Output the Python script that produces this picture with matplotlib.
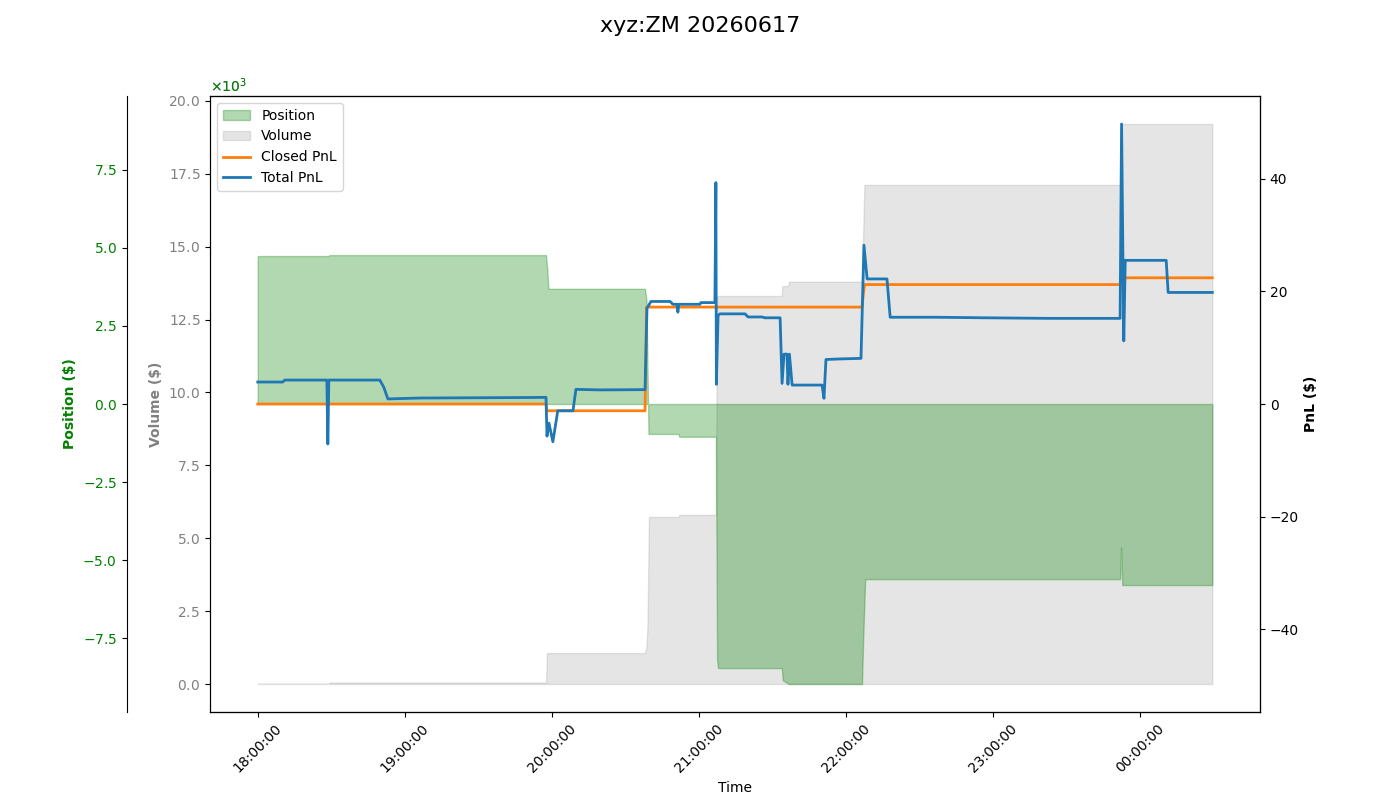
import matplotlib
matplotlib.use('Agg')
import matplotlib.pyplot as plt
import matplotlib.dates as mdates
import numpy as np
import pandas as pd

base = pd.Timestamp('2026-06-16 18:00:00')

# minutes after 18:00, values in $ (position/volume read in thousands)
pos_min = [0, 29.0, 29.2, 117.6, 118.0, 118.6, 158.0, 158.6, 159.4, 171.6, 172.0,
           186.9, 187.4, 187.8, 213.8, 214.2, 216.7, 246.5, 247.0, 247.8, 351.8,
           352.2, 352.7, 389.4]
pos_k = [4.74, 4.74, 4.77, 4.77, 4.42, 3.69, 3.69, 3.3, -0.96, -0.96, -1.05,
         -1.05, -8.2, -8.46, -8.46, -8.85, -8.97, -8.97, -7.5, -5.61, -5.61,
         -4.6, -5.8, -5.8]

vol_min = [0, 29.0, 29.2, 117.6, 118.0, 158.0, 158.6, 159.0, 159.6, 171.6, 172.0,
           186.9, 187.4, 213.8, 214.0, 216.3, 216.7, 246.5, 247.5, 351.8, 352.2,
           389.4]
vol_k = [0.01, 0.01, 0.05, 0.05, 1.06, 1.06, 1.3, 2.0, 5.73, 5.73, 5.8,
         5.8, 13.31, 13.31, 13.65, 13.65, 13.8, 13.8, 17.12, 17.12, 19.21,
         19.21]

closed_min = [0, 117.6, 118.0, 158.0, 158.6, 246.5, 247.5, 351.8, 352.2, 389.4]
closed_pnl = [0, 0, -1.2, -1.2, 17.2, 17.2, 21.2, 21.2, 22.4, 22.4]

total_min = [0, 10.2, 11.0, 28.2, 28.6, 29.0, 49.8, 51.4, 53.1, 66.1, 110.2,
             117.6, 118.0, 118.8, 120.4, 122.4, 128.6, 129.8, 139.6, 158.0, 158.8,
             160.4, 168.2, 169.4, 171.0, 171.4, 171.8, 180.4, 180.8, 186.5, 186.9,
             187.1, 187.8, 188.6, 198.8, 200.0, 205.7, 206.9, 213.1, 213.9, 214.7,
             215.9, 216.3, 216.9, 218.0, 230.2, 231.0, 231.8, 237.6, 246.1, 247.3,
             248.6, 256.7, 258.0, 276.3, 296.7, 323.3, 351.0, 351.8, 352.4, 353.3,
             353.9, 370.6, 371.4, 389.4]
total_pnl = [3.9, 3.9, 4.25, 4.25, -7.1, 4.25, 4.25, 3.0, 0.9, 1.06, 1.15,
             1.18, -5.7, -3.4, -6.7, -1.2, -1.2, 2.6, 2.5, 2.55, 17.0,
             18.2, 18.2, 17.7, 17.7, 16.3, 17.7, 17.7, 18.0, 18.0, 39.3,
             3.5, 15.75, 16.0, 16.0, 15.45, 15.45, 15.3, 15.3, 3.66, 8.85,
             8.85, 3.5, 8.85, 3.36, 3.36, 1.0, 7.9, 8.0, 8.1, 28.2,
             22.2, 22.2, 15.4, 15.4, 15.3, 15.2, 15.2, 15.2, 49.7, 11.2,
             25.5, 25.5, 19.8, 19.8]


def to_time(mins):
    return base + pd.to_timedelta(mins, unit='m')


pos_t = to_time(pos_min)
vol_t = to_time(vol_min)
closed_t = to_time(closed_min)
total_t = to_time(total_min)
position = np.array(pos_k) * 1000
volume = np.array(vol_k) * 1000

fig, ax = plt.subplots(figsize=(14, 8))
fig.subplots_adjust(left=0.15)
fig.suptitle('xyz:ZM 20260617', fontsize=16)

# volume on main axis
ax.fill_between(vol_t, 0, volume, color='grey', alpha=0.2, label='Volume')
ax.set_ylabel('Volume ($)', color='grey', fontweight='bold')
ax.tick_params(axis='y', labelcolor='grey')
ax.ticklabel_format(axis='y', style='sci', scilimits=(3, 3), useMathText=True)
ax.yaxis.get_offset_text().set_color('grey')
ax.set_xlabel('Time')

# position on an extra left axis
ax2 = ax.twinx()
ax2.fill_between(pos_t, 0, position, color='green', alpha=0.3, label='Position')
ax2.yaxis.set_label_position('left')
ax2.yaxis.set_ticks_position('left')
ax2.spines['left'].set_position(('outward', 60))
ax2.set_ylabel('Position ($)', color='green', fontweight='bold')
ax2.tick_params(axis='y', labelcolor='green')
ax2.ticklabel_format(axis='y', style='sci', scilimits=(3, 3), useMathText=True)
ax2.yaxis.get_offset_text().set_color('green')
plim = np.abs(position).max() * 1.1
ax2.set_ylim(-plim, plim)

# pnl on the right
ax3 = ax.twinx()
ax3.plot(closed_t, closed_pnl, color='tab:orange', lw=2, label='Closed PnL')
ax3.plot(total_t, total_pnl, color='tab:blue', lw=2, label='Total PnL')
ax3.set_ylabel('PnL ($)', fontweight='bold')
lim = np.abs(np.array(total_pnl + closed_pnl)).max() * 1.1
ax3.set_ylim(-lim, lim)

ax.xaxis.set_major_locator(mdates.HourLocator())
ax.xaxis.set_major_formatter(mdates.DateFormatter('%H:%M:%S'))
plt.setp(ax.get_xticklabels(), rotation=45)

h1, l1 = ax2.get_legend_handles_labels()
h0, l0 = ax.get_legend_handles_labels()
h3, l3 = ax3.get_legend_handles_labels()
ax3.legend(h1 + h0 + h3, l1 + l0 + l3, loc='upper left')

fig.savefig('out.png', dpi=100)
